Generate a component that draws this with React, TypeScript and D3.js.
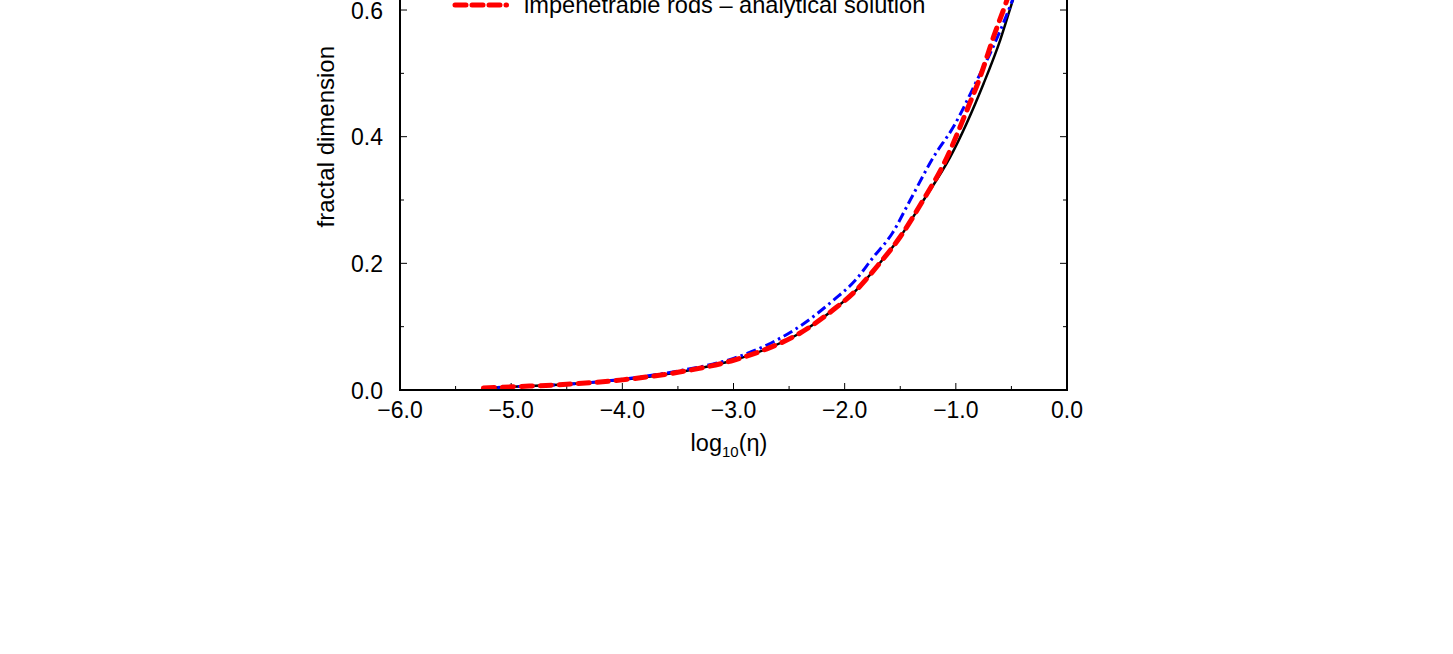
import React from "react";
import * as d3 from "d3";

const xTickValues = [-6, -5, -4, -3, -2, -1, 0];
const xMinorValues = [-5.5, -4.5, -3.5, -2.5, -1.5, -0.5];
const yTickValues = [0, 0.2, 0.4, 0.6, 0.8];
const yMinorValues = [0.1, 0.3, 0.5, 0.7];

// simulation (black solid)
const simX = [-5.25, -5.0, -4.5, -4.0, -3.5, -3.0, -2.7, -2.4, -2.1, -1.9, -1.7, -1.5, -1.3, -1.05, -0.75, -0.6, -0.486, -0.4, -0.3];
const simY = [0.003, 0.005, 0.009, 0.016, 0.028, 0.047, 0.065, 0.09, 0.127, 0.157, 0.197, 0.242, 0.297, 0.368, 0.484, 0.553, 0.616, 0.66, 0.71];

// blue dash-dot
const blueX = [-5.25, -5.0, -4.5, -4.0, -3.5, -3.0, -2.7, -2.4, -2.1, -1.9, -1.75, -1.57, -1.41, -1.2, -1.02, -0.81, -0.69, -0.49, -0.4, -0.3];
const blueY = [0.003, 0.005, 0.009, 0.017, 0.03, 0.05, 0.071, 0.101, 0.142, 0.174, 0.208, 0.248, 0.3, 0.368, 0.416, 0.489, 0.532, 0.616, 0.66, 0.71];

// impenetrable rods – analytical solution (red dashed)
const redX = [-5.25, -5.0, -4.5, -4.0, -3.5, -3.0, -2.7, -2.4, -2.1, -1.9, -1.7, -1.5, -1.3, -1.1, -0.9, -0.78, -0.66, -0.54, -0.45, -0.35];
const redY = [0.003, 0.005, 0.009, 0.016, 0.028, 0.047, 0.065, 0.09, 0.127, 0.157, 0.197, 0.242, 0.298, 0.36, 0.442, 0.495, 0.558, 0.616, 0.665, 0.72];

const legendLabel = "impenetrable rods \u2013 analytical solution";

const FONT = "'Liberation Sans', Arial, Helvetica, sans-serif";

export default function App() {
  const W = 1453;
  const H = 654;
  const left = 400;
  const right = 1067;
  const bottom = 390;
  const x = d3.scaleLinear().domain([-6, 0]).range([left, right]);
  const y = d3.scaleLinear().domain([0, 0.8]).range([bottom, bottom - 0.8 * 633.3]);
  const top = y(0.8);
  const fmt = d3.format(".1f");

  const zip = (xs: number[], ys: number[]) => xs.map((v, i) => [v, ys[i]] as [number, number]);
  const line = d3
    .line<[number, number]>()
    .x((d) => x(d[0]))
    .y((d) => y(d[1]))
    .curve(d3.curveMonotoneX);

  const majorLen = 7;
  const minorLen = 4;

  return (
    <svg
      width={W}
      height={H}
      style={{ position: "absolute", left: 0, top: 0, background: "#fff" }}
      fontFamily={FONT}
    >
      <defs>
        <clipPath id="plotclip">
          <rect x={left} y={top} width={right - left} height={bottom - top} />
        </clipPath>
      </defs>

      {/* ticks */}
      <g stroke="#000" strokeWidth={1}>
        {xTickValues.map((v) => (
          <g key={"xt" + v}>
            <line x1={x(v)} x2={x(v)} y1={bottom} y2={bottom - majorLen} />
            <line x1={x(v)} x2={x(v)} y1={top} y2={top + majorLen} />
          </g>
        ))}
        {xMinorValues.map((v) => (
          <g key={"xm" + v}>
            <line x1={x(v)} x2={x(v)} y1={bottom} y2={bottom - minorLen} />
            <line x1={x(v)} x2={x(v)} y1={top} y2={top + minorLen} />
          </g>
        ))}
        {yTickValues.map((v) => (
          <g key={"yt" + v}>
            <line x1={left} x2={left + majorLen} y1={y(v)} y2={y(v)} />
            <line x1={right} x2={right - majorLen} y1={y(v)} y2={y(v)} />
          </g>
        ))}
        {yMinorValues.map((v) => (
          <g key={"ym" + v}>
            <line x1={left} x2={left + minorLen} y1={y(v)} y2={y(v)} />
            <line x1={right} x2={right - minorLen} y1={y(v)} y2={y(v)} />
          </g>
        ))}
      </g>

      {/* data lines */}
      <g clipPath="url(#plotclip)" fill="none">
        <path d={line(zip(simX, simY)) || ""} stroke="#000" strokeWidth={2.5} />
        <path
          d={line(zip(blueX, blueY)) || ""}
          stroke="#0000ff"
          strokeWidth={3}
          strokeDasharray="10,4,2.5,4"
        />
        <path
          d={line(zip(redX, redY)) || ""}
          stroke="#ff0000"
          strokeWidth={5}
          strokeLinecap="round"
          strokeDasharray="11,8"
        />
      </g>

      {/* frame */}
      <rect
        x={left}
        y={top}
        width={right - left}
        height={bottom - top}
        fill="none"
        stroke="#000"
        strokeWidth={2}
      />

      {/* tick labels */}
      <g fontSize={23} fill="#000">
        {xTickValues.map((v) => (
          <text key={"xl" + v} x={x(v)} y={418} textAnchor="middle">
            {fmt(v)}
          </text>
        ))}
        {yTickValues
          .filter((v) => y(v) > 0)
          .map((v) => (
            <text key={"yl" + v} x={383} y={y(v) + 8.5} textAnchor="end">
              {fmt(v)}
            </text>
          ))}
      </g>

      {/* axis titles */}
      <text x={729} y={451} textAnchor="middle" fontSize={23.5} fill="#000">
        log
        <tspan fontSize={15} dy={6}>
          10
        </tspan>
        <tspan dy={-6}>(η)</tspan>
      </text>
      <text
        transform={`translate(334, ${(top + bottom) / 2}) rotate(-90)`}
        textAnchor="middle"
        fontSize={24}
        fill="#000"
      >
        fractal dimension
      </text>

      {/* legend (visible entry) */}
      <g>
        <line
          x1={455}
          x2={509}
          y1={5}
          y2={5}
          stroke="#ff0000"
          strokeWidth={5}
          strokeLinecap="round"
          strokeDasharray="11,6,11,6,11,6,0.5,6"
        />
        <text x={524} y={13} fontSize={23.6} fill="#000">
          {legendLabel}
        </text>
      </g>
    </svg>
  );
}
